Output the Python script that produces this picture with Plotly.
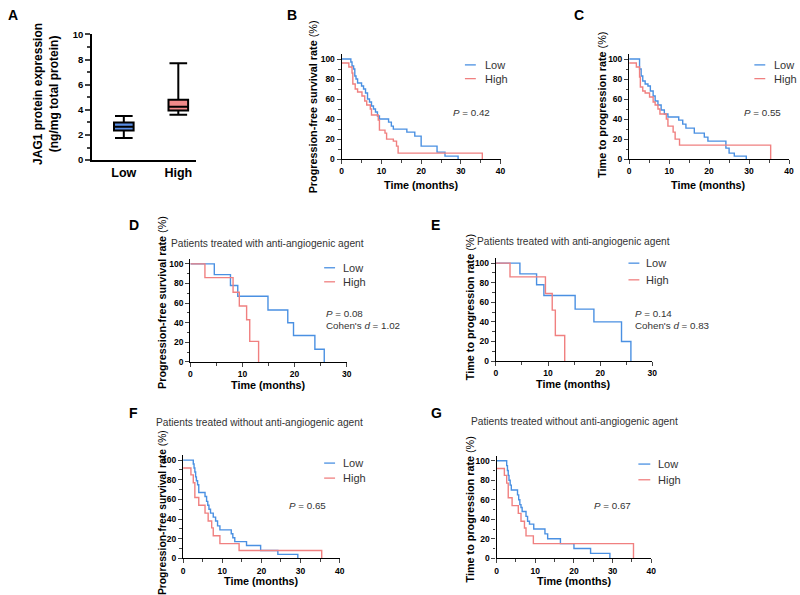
import plotly.graph_objects as go

W, H = 800, 595
FONT = "Liberation Sans, Arial, sans-serif"
BLUE = "#4a90e2"
RED = "#f08080"

# ---------------- data ----------------
box_cats = ["Low", "High"]
box_lowerfence = [1.75, 3.6]
box_q1 = [2.35, 3.95]
box_median = [2.65, 4.25]
box_q3 = [3.0, 4.8]
box_upperfence = [3.5, 7.7]
box_fill = ["#5a8fe6", "#f08a8a"]

# B: PFS all patients
b_low_t = [0, 2.3, 2.6, 3.0, 3.3, 3.6, 4.0, 5.0, 5.5, 6.0, 6.5, 7.0, 7.5, 8.0, 8.5, 9.0, 9.5, 11.8, 12.5, 13.0, 16.4, 18.4, 20.0, 24.0, 26.0, 29.3]
b_low_s = [100, 97, 93, 90, 83, 80, 76, 73, 70, 66, 60, 57, 53, 50, 47, 43, 40, 37, 33, 30, 27, 23, 13, 7, 3, 0]
b_high_t = [0, 1.8, 2.6, 2.8, 3.4, 4.0, 5.1, 5.8, 6.3, 7.2, 7.5, 9.2, 9.5, 10.9, 11.3, 13.0, 13.8, 14.2, 35.4]
b_high_s = [96, 92, 86, 75, 70, 67, 63, 58, 54, 50, 44, 39, 29, 26, 20, 18, 13, 6, 0]

# C: TTP all patients
c_low_t = [0, 2.6, 3.0, 3.4, 4.0, 4.7, 5.3, 6.0, 6.5, 7.2, 8.0, 8.8, 9.7, 12.4, 13.4, 14.2, 16.3, 18.8, 19.7, 24.2, 25.0, 26.3, 29.3]
c_low_s = [100, 90, 83, 78, 75, 73, 68, 63, 58, 54, 49, 45, 42, 39, 35, 31, 26, 22, 18, 11, 6, 3, 0]
c_high_t = [0, 1.8, 2.6, 2.8, 3.4, 4.0, 5.1, 6.0, 6.5, 7.2, 7.7, 9.3, 9.7, 11.0, 11.5, 12.6, 35.4]
c_high_s = [96, 92, 82, 72, 68, 66, 62, 57, 54, 50, 45, 40, 33, 27, 20, 14, 0]

# D: PFS with anti-angiogenic agent
d_low_t = [0, 4.6, 7.7, 9.1, 14.9, 18.7, 19.8, 23.9, 25.7]
d_low_s = [100, 89, 78, 67, 53, 40, 27, 13, 0]
d_high_t = [0, 2.8, 8.2, 9.4, 10.8, 11.4, 13.1]
d_high_s = [100, 86, 71, 57, 43, 21, 0]

# E: TTP with anti-angiogenic agent
e_low_t = [0, 4.6, 7.8, 9.2, 15.2, 18.8, 24.1, 25.9]
e_low_s = [100, 89, 78, 67, 53, 40, 20, 0]
e_high_t = [0, 2.7, 9.5, 10.8, 11.4, 13.2]
e_high_s = [100, 86, 69, 52, 26, 0]

# F: PFS without anti-angiogenic agent
f_low_t = [0, 2.6, 2.8, 3.0, 3.2, 3.4, 3.7, 4.0, 5.6, 6.0, 6.3, 6.6, 7.0, 7.7, 8.3, 8.8, 9.4, 12.3, 12.7, 13.2, 16.2, 19.8, 24.2, 29.3]
f_low_s = [100, 96, 92, 88, 83, 79, 75, 67, 63, 58, 54, 50, 46, 42, 38, 33, 29, 25, 21, 17, 13, 8, 4, 0]
f_high_t = [0, 2.0, 2.6, 3.0, 4.0, 5.6, 6.4, 7.3, 7.7, 9.4, 14.3, 35.4]
f_high_s = [92, 85, 77, 62, 54, 46, 38, 31, 23, 15, 8, 0]

# G: TTP without anti-angiogenic agent
g_low_t = [0, 2.6, 2.8, 3.0, 3.2, 3.5, 3.8, 5.4, 5.7, 6.0, 6.3, 6.6, 7.6, 8.0, 8.5, 9.6, 12.5, 13.2, 16.5, 20.0, 24.3, 29.3]
g_low_s = [100, 95, 90, 85, 80, 75, 70, 65, 60, 55, 52, 48, 43, 38, 35, 30, 25, 20, 15, 10, 5, 0]
g_high_t = [0, 2.0, 2.6, 3.0, 4.0, 5.6, 6.3, 7.2, 7.6, 9.5, 35.4]
g_high_s = [92, 85, 77, 62, 54, 46, 38, 31, 23, 15, 0]

series_names = ["Low", "High"]

# ---------------- helpers ----------------
def fx(x):
    return x / W

def fy(y):
    return 1 - y / H

fig = go.Figure()
annotations = []
shapes = []

def ann(x, y, text, size=11, bold=False, angle=0, xanchor="center", color="#222"):
    annotations.append(dict(
        x=fx(x), y=fy(y), xref="paper", yref="paper", text=text, showarrow=False,
        textangle=angle, xanchor=xanchor, yanchor="middle",
        font=dict(family=FONT, size=size, color=color, weight="bold" if bold else "normal")))

# ---------------- panel A: box plot ----------------
for i, cat in enumerate(box_cats):
    fig.add_trace(go.Box(
        x=[i], q1=[box_q1[i]], median=[box_median[i]], q3=[box_q3[i]],
        lowerfence=[box_lowerfence[i]], upperfence=[box_upperfence[i]],
        fillcolor=box_fill[i], line=dict(color="black", width=2), width=0.36,
        whiskerwidth=0.9, boxpoints=False, showlegend=False, name=cat,
        xaxis="x", yaxis="y"))

fig.update_layout(
    xaxis=dict(domain=[fx(91), fx(196)], range=[-0.58, 1.33], tickvals=[0, 1], ticktext=box_cats,
               showline=True, linecolor="black", linewidth=2, ticks="", showgrid=False, zeroline=False,
               tickfont=dict(family=FONT, size=12.5, color="black", weight="bold"), anchor="y"),
    yaxis=dict(domain=[fy(157), fy(29)], range=[0, 10], tickvals=[0, 2, 4, 6, 8, 10],
               showline=True, linecolor="black", linewidth=2, ticks="outside", ticklen=5, tickwidth=2,
               minor=dict(ticks="outside", ticklen=3, tickwidth=1.5, dtick=1, showgrid=False),
               showgrid=False, zeroline=False,
               tickfont=dict(family=FONT, size=9.5, color="black", weight="bold"), anchor="x"),
)
ann(45, 90, "JAG1 protein expression<br>(ng/mg total protein)", size=12, bold=True, angle=-90, color="black")
ann(11, 9, "A", size=14, bold=True, color="black")

# ---------------- KM panels ----------------
panels = [
    dict(letter="B", lpos=(293, 9), low=(b_low_t, b_low_s), high=(b_high_t, b_high_s),
         xd=(342.7, 503), y0=156, ytop=48.9, xmax=40,
         ytitle="<b>Progression-free survival rate</b> (%)", ytpos=(314, 103), xtpos=(423, 182),
         leg=(467, 478, 485, 60, 74), ptxt="<i>P</i> = 0.42", ppos=(453, 109), title=None),
    dict(letter="C", lpos=(582, 9), low=(c_low_t, c_low_s), high=(c_high_t, c_high_s),
         xd=(632.7, 794), y0=156, ytop=48.9, xmax=40,
         ytitle="<b>Time to progression rate</b> (%)", ytpos=(605, 101), xtpos=(713, 182),
         leg=(759, 770, 777, 60, 74), ptxt="<i>P</i> = 0.55", ppos=(747, 109), title=None),
    dict(letter="D", lpos=(133, 223), low=(d_low_t, d_low_s), high=(d_high_t, d_high_s),
         xd=(190, 347.7), y0=362.7, ytop=257.7, xmax=30,
         ytitle="<b>Progression-free survival rate</b> (%)", ytpos=(162, 302), xtpos=(269, 386),
         leg=(325, 336, 342, 266.7, 281), ptxt="<i>P</i> = 0.08", ppos=(325, 313),
         extra="Cohen's <i>d</i> = 1.02", title=("Patients treated with anti-angiogenic agent", 268, 241.5)),
    dict(letter="E", lpos=(437, 223), low=(e_low_t, e_low_s), high=(e_high_t, e_high_s),
         xd=(498.3, 656), y0=361.7, ytop=257, xmax=30,
         ytitle="<b>Time to progression rate</b> (%)", ytpos=(472, 307), xtpos=(577, 385),
         leg=(632, 643, 648, 262, 279), ptxt="<i>P</i> = 0.14", ppos=(637, 313),
         extra="Cohen's <i>d</i> = 0.83", title=("Patients treated with anti-angiogenic agent", 577, 240)),
    dict(letter="F", lpos=(133, 415), low=(f_low_t, f_low_s), high=(f_high_t, f_high_s),
         xd=(182.7, 340.7), y0=562.7, ytop=457.7, xmax=40, ytsize=10.3,
         ytitle="<b>Progression-free survival rate</b> (%)", ytpos=(162, 516), xtpos=(262, 586),
         leg=(325, 336, 342, 465.7, 481), ptxt="<i>P</i> = 0.65", ppos=(288, 508.7),
         title=("Patients treated without anti-angiogenic agent", 260, 424)),
    dict(letter="G", lpos=(438, 415), low=(g_low_t, g_low_s), high=(g_high_t, g_high_s),
         xd=(499, 655), y0=562.7, ytop=458.3, xmax=40,
         ytitle="<b>Time to progression rate</b> (%)", ytpos=(472, 513), xtpos=(578, 586),
         leg=(642, 654, 660, 466.7, 482.7), ptxt="<i>P</i> = 0.67", ppos=(595, 508.7),
         title=("Patients treated without anti-angiogenic agent", 578, 423)),
]

layout_axes = {}
for k, p in enumerate(panels):
    n = k + 2
    xa, ya = f"x{n}", f"y{n}"
    for (t, s), col, nm in [(p["low"], BLUE, series_names[0]), (p["high"], RED, series_names[1])]:
        fig.add_trace(go.Scatter(x=t, y=s, mode="lines", line=dict(color=col, width=1.4, shape="hv"),
                                 name=nm, showlegend=False, xaxis=xa, yaxis=ya, cliponaxis=False))
    layout_axes[f"xaxis{n}"] = dict(
        domain=[fx(p["xd"][0]), fx(p["xd"][1])], range=[0, p["xmax"]], dtick=10,
        showline=True, linecolor="black", linewidth=1.3, ticks="outside", ticklen=4, tickwidth=1.3,
        minor=dict(ticks="outside", ticklen=2.5, tickwidth=1, dtick=5, showgrid=False),
        showgrid=False, zeroline=False, anchor=ya,
        tickfont=dict(family=FONT, size=8.5, color="black", weight="bold"))
    layout_axes[f"yaxis{n}"] = dict(
        domain=[fy(p["y0"]), fy(p["ytop"])], range=[0, 105], tickvals=[0, 20, 40, 60, 80, 100],
        showline=True, linecolor="black", linewidth=1.3, ticks="outside", ticklen=4, tickwidth=1.3,
        minor=dict(ticks="outside", ticklen=2.5, tickwidth=1, tickvals=[10, 30, 50, 70, 90], showgrid=False),
        showgrid=False, zeroline=False, anchor=xa,
        tickfont=dict(family=FONT, size=8.5, color="black", weight="bold"))
    ann(*p["lpos"], p["letter"], size=14, bold=True, color="black")
    ann(*p["ytpos"], p["ytitle"], size=p.get("ytsize", 10.8), angle=-90, color="black")
    ann(*p["xtpos"], "Time (months)", size=10.8, bold=True, color="black")
    x0, x1, xt, yl, yh = p["leg"]
    for yy, col, nm in [(yl, BLUE, series_names[0]), (yh, RED, series_names[1])]:
        shapes.append(dict(type="line", xref="paper", yref="paper", x0=fx(x0), x1=fx(x1),
                           y0=fy(yy), y1=fy(yy), line=dict(color=col, width=1.3)))
        ann(xt, yy, nm, size=11, xanchor="left", color="#333")
    ann(p["ppos"][0], p["ppos"][1], p["ptxt"], size=9.8, xanchor="left", color="#333")
    if p.get("extra"):
        ann(p["ppos"][0], p["ppos"][1] + 12.7, p["extra"], size=9.8, xanchor="left", color="#333")
    if p.get("title"):
        tt, tx, ty = p["title"]
        ann(tx, ty, tt, size=10.2, color="#333")

fig.update_layout(**layout_axes)
fig.update_layout(
    width=W, height=H, margin=dict(l=0, r=0, t=0, b=0),
    paper_bgcolor="white", plot_bgcolor="white", showlegend=False,
    annotations=annotations, shapes=shapes,
)
fig.write_html("out.html")
